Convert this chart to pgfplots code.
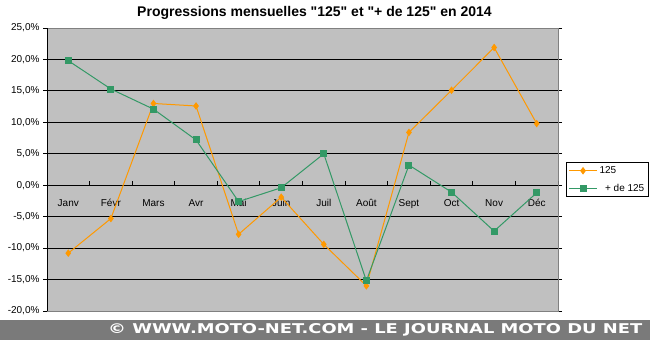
\documentclass[border=0pt]{standalone}
\usepackage{pgfplots}
\pgfplotsset{compat=1.18}
\usepackage{fontspec}
\setmainfont{Liberation Sans}
\newfontfamily\titlefont{Liberation Sans}[Ligatures=TeXOff]
\newfontfamily\footfont{DejaVu Sans}
\definecolor{orng}{HTML}{FF9900}
\definecolor{grn}{HTML}{339966}
\definecolor{plotbg}{HTML}{C0C0C0}
\definecolor{foot}{HTML}{7A7A7A}
\begin{document}
\begin{tikzpicture}[x=1pt,y=1pt]
\path[fill=white] (0,0) rectangle (650,340);
\fill[foot] (0,0) rectangle (650,20);
\node[text=white,anchor=west,inner sep=0pt] at (108,10) {\resizebox{534pt}{10pt}{\footfont\bfseries © WWW.MOTO-NET.COM - LE JOURNAL MOTO DU NET}};
\node[font=\titlefont\bfseries\fontsize{14}{16}\selectfont] at (314.5,327) {Progressions mensuelles "125" et "+ de 125" en 2014};
\begin{axis}[
  at={(47pt,29pt)}, anchor=south west, scale only axis,
  width=511pt, height=283pt,
  xmin=0.5, xmax=12.5, ymin=-20, ymax=25,
  ytick={-20,-15,...,25},
  xtick={1,...,12},
  xticklabels={Janv,Févr,Mars,Avr,Mai,Juin,Juil,Août,Sept,Oct,Nov,Déc},
  x tick style={draw=none},
  xticklabel style={yshift=119pt, font=\fontsize{10}{12}\selectfont},
  yticklabel style={font=\fontsize{10}{12}\selectfont},
  yticklabel={\pgfmathprintnumber{\tick}\%},
  /pgf/number format/.cd, fixed, fixed zerofill, precision=1, use comma, assume math mode=true,
  /pgfplots/.cd,
  ytick style={black, line width=1pt},
  tick align=outside, major tick length=4pt,
  ymajorgrids, grid style={black, line width=1pt},
  axis background/.style={fill=plotbg},
  axis line style={draw=black!50, line width=1pt},
  legend style={at={(axis description cs:1.0157,0.5265)}, anchor=north west,
    draw=black, line width=1pt, fill=white, font=\fontsize{10}{12}\selectfont,
    inner sep=2pt, row sep=5pt},
  legend cell align=left,
  legend image code/.code={\draw[mark repeat=2,mark phase=2] plot coordinates {(0pt,0pt) (14pt,0pt) (28pt,0pt)};},
]
\addplot[orng, line width=1pt, mark=diamond*, mark size=3pt, mark options={solid,fill=orng,draw=orng}]
 coordinates {(1,-10.8) (2,-5.3) (3,13.0) (4,12.6) (5,-7.8) (6,-1.9) (7,-9.4) (8,-16.0) (9,8.4) (10,15.1) (11,21.9) (12,9.8)};
\addlegendentry{125}
\addplot[grn, line width=1pt, mark=square*, mark size=3pt, mark options={solid,fill=grn,draw=grn}]
 coordinates {(1,19.8) (2,15.3) (3,12.1) (4,7.2) (5,-2.6) (6,-0.4) (7,5.0) (8,-15.2) (9,3.2) (10,-1.1) (11,-7.3) (12,-1.2)};
\addlegendentry{\ \ + de 125}
\pgfplotsinvokeforeach{0.5,1.5,...,12.5}{\draw[black,line width=1pt] (axis cs:#1,0) -- ([yshift=4pt]axis cs:#1,0);}
\draw[black,line width=1pt] (rel axis cs:0,0) -- (rel axis cs:0,1);
\end{axis}
\end{tikzpicture}
\end{document}
